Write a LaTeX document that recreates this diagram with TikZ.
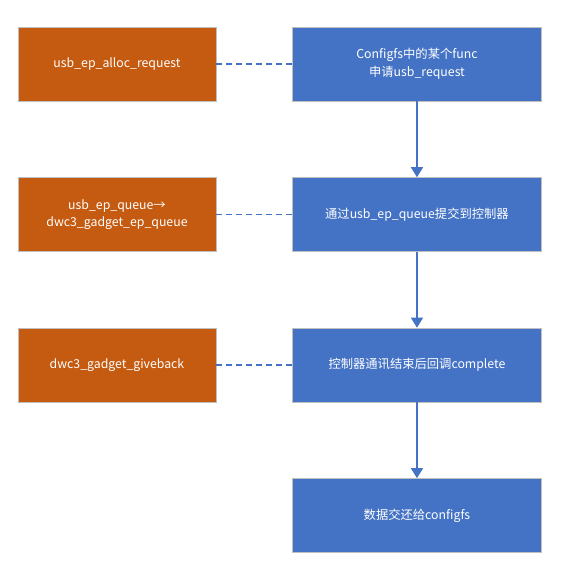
\documentclass[tikz,border=0pt]{standalone}
\usepackage{fontspec}
\setmainfont{Noto Sans CJK SC}
\usetikzlibrary{arrows.meta, positioning}
\definecolor{stepblue}{RGB}{68,114,196}
\definecolor{apiorange}{RGB}{197,90,17}
\definecolor{boxedge}{RGB}{191,191,191}

\begin{document}
\begin{tikzpicture}[
  node distance=2.28cm and 2.28cm,
  flowstep/.style={rectangle, draw=boxedge, fill=stepblue, text=white, minimum width=7.47cm, minimum height=2.22cm, align=center, font=\fontsize{10.5}{15}\selectfont},
  apibox/.style={rectangle, draw=boxedge, fill=apiorange, text=white, minimum width=5.94cm, minimum height=2.22cm, align=center, font=\fontsize{10.5}{15}\selectfont},
  arrow/.style={-{Triangle[length=3mm, width=3.6mm]}, line width=1.2pt, color=stepblue},
  link/.style={dash pattern=on 5pt off 3.5pt, line width=1.1pt, color=stepblue}
]
  \useasboundingbox (0,0) rectangle (17.46,-17.46);

  \node[apibox] (alloc) at (3.51,-1.92) {usb\_ep\_alloc\_request};
  \node[apibox, below=of alloc] (queue) {usb\_ep\_queue→\\dwc3\_gadget\_ep\_queue};
  \node[apibox, below=of queue] (giveback) {dwc3\_gadget\_giveback};

  \node[flowstep, right=of alloc] (request) {Configfs中的某个func\\申请usb\_request};
  \node[flowstep, right=of queue] (submit) {通过usb\_ep\_queue提交到控制器};
  \node[flowstep, right=of giveback] (complete) {控制器通讯结束后回调complete};
  \node[flowstep, below=of complete] (hand) {数据交还给configfs};

  \draw[arrow] (request) -- (submit);
  \draw[arrow] (submit) -- (complete);
  \draw[arrow] (complete) -- (hand);

  \draw[link] (alloc) -- (request);
  \draw[link] (queue) -- (submit);
  \draw[link] (giveback) -- (complete);

\end{tikzpicture}
\end{document}
